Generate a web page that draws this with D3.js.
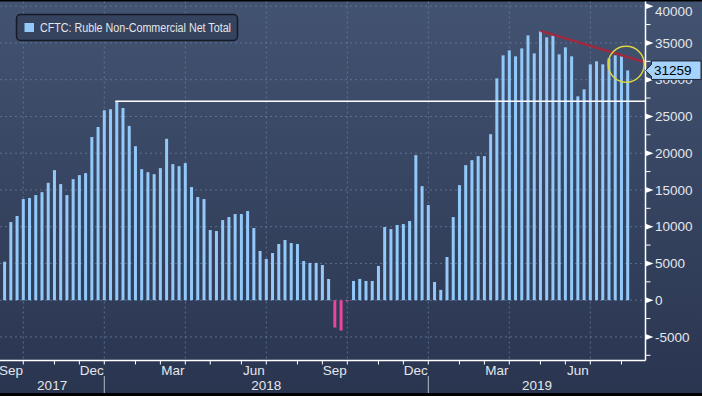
<!DOCTYPE html>
<html>
<head>
<meta charset="utf-8">
<script src="https://cdn.jsdelivr.net/npm/d3@7"></script>
<style>
    body { margin: 0; background: #000; }
    text { font-family: "Liberation Sans", Arial, sans-serif; fill: #e4e6ea; }
</style>
</head>
<body>
<svg id="chart"></svg>
<script>
// weekly CFTC report dates start here (Tuesdays)
const firstDate = '2017-09-12'
const values = [
    5240, 10630, 11450, 13760, 13900, 14300, 14700, 15970, 17700, 15800,
    14300, 16470, 17020, 17290, 22200, 23570, 25840, 25980, 27060, 26150,
    23710, 20950, 17830, 17420, 17150, 17970, 21960, 18510, 18240, 18650,
    15390, 14030, 13760, 9550, 9410, 10900, 11310, 11720, 11720, 12130,
    9820, 6700, 5610, 6420, 7650, 8190, 7780, 7650, 5340, 5070,
    5070, 4790, 2890, -3720, -4130, -150, 2620, 2890, 2620, 2620,
    4660, 9950, 9680, 10230, 10360, 10770, 19740, 15520, 12940, 2480,
    1400, 5880, 11310, 15660, 18370, 19050, 19600, 19600, 22590, 30180,
    33310, 33990, 33180, 34260, 36030, 33580, 36570, 35760, 36030, 33450,
    34400, 33180, 27740, 28690, 32090, 32500, 32090, 32910, 33310, 33180,
    31259
]
const seriesName = 'CFTC: Ruble Non-Commercial Net Total'
const yTicks = [-5000, 0, 5000, 10000, 15000, 20000, 25000, 30000, 35000, 40000]
const yMinorTicks = [-7500, -2500, 2500, 7500, 12500, 17500, 22500, 27500, 32500, 37500]
const monthLabels = ['Mar', 'Jun', 'Sep', 'Dec']
const trendLine = [['2019-05-07', 36650], ['2019-09-02', 32350]]
const circleMark = ['2019-08-13', 32100]

const W = 702, H = 396
const plot = { left: 0, right: 645.5, top: 1.5, bottom: 360.5 }

var parse = d3.utcParse('%Y-%m-%d')
var start = parse(firstDate)
var dates = values.map(function (v, i) { return d3.utcDay.offset(start, 7 * i) })
var last = dates[dates.length - 1]

var x = d3.scaleUtc()
          .domain([start, last])
          .range([4.6, 627.7])
var y = d3.scaleLinear()
          .domain([0, 40000])
          .range([300.2, 6.2])

var svg = d3.select('#chart')
            .attr('width', W)
            .attr('height', H)

var defs = svg.append('defs')
var grad = defs.append('linearGradient')
               .attr('id', 'bg').attr('x1', 0).attr('x2', 0).attr('y1', 0).attr('y2', 1)
grad.append('stop').attr('offset', 0).attr('stop-color', '#425371')
grad.append('stop').attr('offset', 1).attr('stop-color', '#2a3550')

svg.append('rect').attr('width', W).attr('height', H).attr('fill', '#000')
svg.append('rect')
   .attr('x', 0).attr('y', 1.5)
   .attr('width', W).attr('height', 391.5)
   .attr('fill', 'url(#bg)')

// month ticks sit on the first report date of each month
var months = d3.utcMonth.range(d3.utcMonth.ceil(start), last)
var monthTicks = months.map(function (m) {
    return { month: m, date: dates.find(function (d) { return d >= m }) }
})

// grid
var grid = svg.append('g')
              .attr('stroke', '#6a7f9e')
              .attr('stroke-opacity', 0.75)
              .attr('stroke-dasharray', '2,3')
grid.selectAll('.hgrid')
    .data(yTicks)
    .enter().append('line')
    .attr('x1', plot.left).attr('x2', plot.right)
    .attr('y1', function (d) { return y(d) })
    .attr('y2', function (d) { return y(d) })
grid.selectAll('.vgrid')
    .data(monthTicks.filter(function (t) { return t.month.getUTCMonth() % 3 == 0 }))
    .enter().append('line')
    .attr('x1', function (d) { return x(d.date) })
    .attr('x2', function (d) { return x(d.date) })
    .attr('y1', plot.top).attr('y2', plot.bottom)

// bars
svg.append('g')
   .selectAll('rect')
   .data(values)
   .enter().append('rect')
   .attr('x', function (d, i) { return x(dates[i]) - 1.5 })
   .attr('width', 3)
   .attr('y', function (d) { return y(Math.max(d, 0)) })
   .attr('height', function (d) { return Math.max(Math.abs(y(d) - y(0)), 1) })
   .attr('fill', function (d) { return d < 0 ? '#e8479a' : '#92c9f9' })

// peak line
var peakIdx = d3.maxIndex(values.slice(0, 60))
svg.append('line')
   .attr('x1', x(dates[peakIdx]) - 1.5).attr('x2', plot.right)
   .attr('y1', y(values[peakIdx])).attr('y2', y(values[peakIdx]))
   .attr('stroke', '#ffffff').attr('stroke-width', 1.5)

// trend line
svg.append('line')
   .attr('x1', x(parse(trendLine[0][0]))).attr('y1', y(trendLine[0][1]))
   .attr('x2', x(parse(trendLine[1][0]))).attr('y2', y(trendLine[1][1]))
   .attr('stroke', '#a3283e').attr('stroke-width', 2.5)

svg.append('circle')
   .attr('cx', x(parse(circleMark[0])) - 1.5)
   .attr('cy', y(circleMark[1]))
   .attr('r', 18)
   .attr('fill', 'none')
   .attr('stroke', '#dcd640').attr('stroke-width', 1.5)

// right axis
var axisR = svg.append('g')
axisR.append('line')
     .attr('x1', plot.right).attr('x2', plot.right)
     .attr('y1', plot.top).attr('y2', plot.bottom)
     .attr('stroke', '#fff').attr('stroke-width', 1.5)
axisR.selectAll('.major')
     .data(yTicks)
     .enter().append('path')
     .attr('d', function (d) {
         var yy = y(d)
         return 'M' + plot.right + ',' + (yy - 3) + 'L' + (plot.right + 8) + ',' + yy
              + 'L' + plot.right + ',' + (yy + 3) + 'Z'
     })
     .attr('fill', '#fff')
axisR.selectAll('.minor')
     .data(yMinorTicks)
     .enter().append('line')
     .attr('x1', plot.right).attr('x2', plot.right + 5)
     .attr('y1', function (d) { return y(d) })
     .attr('y2', function (d) { return y(d) })
     .attr('stroke', '#fff')
axisR.selectAll('text')
     .data(yTicks)
     .enter().append('text')
     .attr('x', 655)
     .attr('y', function (d) { return Math.max(y(d), 11) })
     .attr('dy', '0.35em')
     .style('font-size', '13.5px')
     .text(function (d) { return d })

// bottom axis
var axisB = svg.append('g')
axisB.append('line')
     .attr('x1', plot.left).attr('x2', plot.right)
     .attr('y1', plot.bottom).attr('y2', plot.bottom)
     .attr('stroke', '#fff').attr('stroke-width', 1.5)
axisB.selectAll('.mtick')
     .data(monthTicks)
     .enter().append('line')
     .attr('x1', function (d) { return x(d.date) })
     .attr('x2', function (d) { return x(d.date) })
     .attr('y1', plot.bottom).attr('y2', plot.bottom + 4)
     .attr('stroke', '#fff')

function tickX(m) {
    var t = monthTicks.find(function (d) { return +d.month == +m })
    return t ? x(t.date) : x(m)
}

var labelled = d3.utcMonth.range(d3.utcMonth.floor(start), last)
                 .filter(function (m) { return monthLabels.indexOf(d3.utcFormat('%b')(m)) >= 0 })
axisB.selectAll('.mlabel')
     .data(labelled)
     .enter().append('text')
     .attr('x', function (m) {
         var mid = (tickX(m) + tickX(d3.utcMonth.offset(m, 1))) / 2
         return Math.max(mid, 11)
     })
     .attr('y', 375)
     .attr('text-anchor', 'middle')
     .style('font-size', '13.5px')
     .text(d3.utcFormat('%b'))

var years = [2017, 2018, 2019]
axisB.selectAll('.ylabel')
     .data(years)
     .enter().append('text')
     .attr('x', function (yr) {
         var a = Math.max(tickX(new Date(Date.UTC(yr, 0, 1))), plot.left)
         var b = Math.min(tickX(new Date(Date.UTC(yr + 1, 0, 1))), plot.right)
         return (a + b) / 2
     })
     .attr('y', 390)
     .attr('text-anchor', 'middle')
     .style('font-size', '13.5px')
     .text(function (d) { return d })

axisB.selectAll('.ysep')
     .data(monthTicks.filter(function (t) { return t.month.getUTCMonth() == 0 }))
     .enter().append('line')
     .attr('x1', function (d) { return x(d.date) })
     .attr('x2', function (d) { return x(d.date) })
     .attr('y1', 376).attr('y2', 393)
     .attr('stroke', '#b4bccb')

// last value tag
var lastY = y(values[values.length - 1])
var tag = svg.append('g')
tag.append('path')
   .attr('d', 'M' + plot.right + ',' + lastY
            + 'L' + (plot.right + 6) + ',' + (lastY - 6)
            + 'L' + (plot.right + 6) + ',' + (lastY - 9.5)
            + 'L' + 701 + ',' + (lastY - 9.5)
            + 'L' + 701 + ',' + (lastY + 9)
            + 'L' + (plot.right + 6) + ',' + (lastY + 9)
            + 'L' + (plot.right + 6) + ',' + (lastY + 6) + 'Z')
   .attr('fill', '#a6d3fb')
   .attr('stroke', '#1d2838')
tag.append('text')
   .attr('x', 654).attr('y', lastY)
   .attr('dy', '0.36em')
   .style('font-size', '13.5px')
   .style('fill', '#000')
   .text(values[values.length - 1])

// legend
var legend = svg.append('g')
legend.append('rect')
      .attr('x', 16.5).attr('y', 14.5)
      .attr('width', 221).attr('height', 26)
      .attr('rx', 4)
      .attr('fill', '#35435f')
      .attr('stroke', '#151a24').attr('stroke-width', 1.5)
legend.append('rect')
      .attr('x', 24.5).attr('y', 23).attr('width', 9.5).attr('height', 9)
      .attr('fill', '#92c9f9')
legend.append('text')
      .attr('x', 40).attr('y', 32)
      .attr('textLength', 191)
      .attr('lengthAdjust', 'spacingAndGlyphs')
      .style('font-size', '12px')
      .text(seriesName)
</script>
</body>
</html>
